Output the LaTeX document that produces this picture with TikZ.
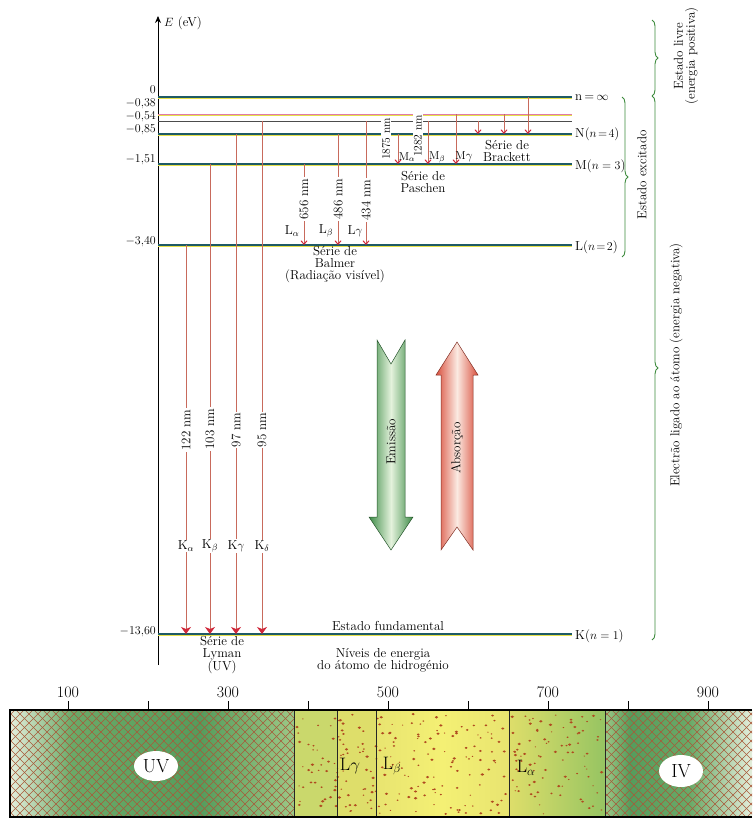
\documentclass[tikz,border=0pt]{standalone}
\usetikzlibrary{arrows.meta,decorations.pathreplacing,shapes.geometric}
\definecolor{levc}{HTML}{1E5A66}
\definecolor{levy}{HTML}{E6E04A}
\definecolor{levp}{HTML}{E07AA8}
\definecolor{trc}{HTML}{C86A5C}
\definecolor{tipc}{HTML}{D0283A}
\definecolor{brc}{HTML}{3C8A3C}
\definecolor{emg}{HTML}{3E8C48}
\definecolor{emw}{HTML}{E4F2DC}
\definecolor{abr}{HTML}{D9503E}
\definecolor{abw}{HTML}{FBEAE2}
\definecolor{hatchc}{HTML}{A85A3A}
\definecolor{speck}{HTML}{B04A20}
\definecolor{gpale}{HTML}{E4EEDC}
\definecolor{gmid}{HTML}{6AAA68}
\definecolor{gdark}{HTML}{559C5C}
\definecolor{glight}{HTML}{9CC886}
\definecolor{yg}{HTML}{CAD86C}
\definecolor{ya}{HTML}{DEDE6A}
\definecolor{yb}{HTML}{E8E470}
\definecolor{yc}{HTML}{F4F074}
\definecolor{ygr}{HTML}{96C462}
\begin{document}
\begin{tikzpicture}[x=1pt,y=-1pt,
 lab/.style={font=\fontsize{13}{12}\selectfont, inner sep=1pt},
 sml/.style={font=\fontsize{11.5}{12}\selectfont, inner sep=0.6pt},
 ylab/.style={font=\fontsize{12}{12}\selectfont, inner sep=0pt, anchor=east},
 big/.style={font=\fontsize{16}{16}\selectfont, inner sep=1pt},
 lev/.style={draw=levc, line width=1.4pt},
 levyel/.style={draw=levy, line width=1.1pt},
 trans/.style={draw=trc, line width=1pt},
 lyman/.style={trans, -{Stealth[length=7pt,width=10pt,inset=2pt,color=tipc]}},
 balm/.style={trans, -{Straight Barb[length=3.5pt,width=6pt,color=tipc]}},
 bracestyle/.style={draw=brc, line width=0.9pt, decorate, decoration={brace, amplitude=6pt}},
 hatch/.style={draw=hatchc, line width=0.55pt},
]
\useasboundingbox (0,0) rectangle (752,826);

% axis
\coordinate (axb) at (158,665);
\coordinate (axt) at (158,16);
\draw[line width=1pt, -{Stealth[length=7pt,width=6pt]}] (axb) -- (axt);
\node[anchor=west, font=\fontsize{13}{12}\selectfont, inner sep=1pt] (eaxis) at (163,23) {$E$ (eV)};

% level coordinates
\foreach \n/\y in {0/97, 1/114, 2/121, 4/134, 3/164, L/245, K/634}{
  \coordinate (lv\n) at (158,\y);
  \coordinate (rt\n) at (572,\y);
}
% levels
\foreach \n in {0,4,3,L,K}{
  \draw[levyel] ([yshift=-1.4pt]lv\n) -- ([yshift=-1.4pt]rt\n);
  \draw[lev] (lv\n) -- (rt\n);
}
\draw[levyel] ([yshift=-1pt]lv1) -- ([yshift=-1pt]rt1);
\draw[draw=levp, line width=0.8pt] (lv1) -- (rt1);
\draw[draw=black!70, line width=0.7pt] (lv2) -- (rt2);

% left labels
\node[ylab] (t0) at (156,90) {0};
\node[ylab] (t1) at (156,103.5) {$-$0,38};
\node[ylab] (t2) at (156,116.5) {$-$0,54};
\node[ylab] (t4) at (156,129.5) {$-$0,85};
\node[ylab] (t3) at (156,160) {$-$1,51};
\node[ylab] (tL) at (156,242) {$-$3,40};
\node[ylab] (tK) at (156,632) {$-$13,60};

% right labels
\node[lab, anchor=west] (n0) at (574,98) {n\,=\,$\infty$};
\node[lab, anchor=west] (n4) at (574,134) {N($n\!=\!4$)};
\node[lab, anchor=west] (n3) at (574,166) {M($n = 3$)};
\node[lab, anchor=west] (nL) at (574,247) {L($n\!=\!2$)};
\node[lab, anchor=west] (nK) at (574,636) {K($n = 1$)};

% columns
\coordinate (cKa) at (186,0);
\coordinate (cKb) at (210,0);
\coordinate (cKg) at (236,0);
\coordinate (cKd) at (262,0);
\coordinate (cLa) at (304,0);
\coordinate (cLb) at (338,0);
\coordinate (cLg) at (366,0);
\coordinate (cMa) at (398,0);
\coordinate (cMb) at (428,0);
\coordinate (cMg) at (456,0);
\coordinate (cB1) at (478,0);
\coordinate (cB2) at (504,0);
\coordinate (cB3) at (528,0);

% Lyman
\draw[lyman] (cKa |- lvL) -- (cKa |- lvK);
\draw[lyman] (cKb |- lv3) -- (cKb |- lvK);
\draw[lyman] (cKg |- lv4) -- (cKg |- lvK);
\draw[lyman] (cKd |- lv2) -- (cKd |- lvK);
\node[lab, rotate=90, fill=white] (wKa) at (186,430) {122 nm};
\node[lab, rotate=90, fill=white] (wKb) at (210,429) {103 nm};
\node[lab, rotate=90, fill=white] (wKg) at (236,430) {97 nm};
\node[lab, rotate=90, fill=white] (wKd) at (262,430) {95 nm};
\node[lab, fill=white] (kKa) at (186,546) {K$_\alpha$};
\node[lab, fill=white] (kKb) at (210,546) {K$_\beta$};
\node[lab, fill=white] (kKg) at (236,546) {K$\gamma$};
\node[lab, fill=white] (kKd) at (262,546) {K$_\delta$};

% Balmer
\draw[balm] (cLa |- lv3) -- (cLa |- lvL);
\draw[balm] (cLb |- lv4) -- (cLb |- lvL);
\draw[balm] (cLg |- lv2) -- (cLg |- lvL);
\node[lab, rotate=90, fill=white] (wLa) at (304,199) {656 nm};
\node[lab, rotate=90, fill=white] (wLb) at (338,199) {486 nm};
\node[lab, rotate=90, fill=white] (wLg) at (366,200) {434 nm};
\node[lab] (kLa) at (292,231) {L$_\alpha$};
\node[lab] (kLb) at (326,231) {L$_\beta$};
\node[lab] (kLg) at (355,231) {L$\gamma$};
\node[lab, align=center] (balmer) at (335,265) {Série de\\Balmer\\(Radiação visível)};

% Paschen
\draw[balm] (cMa |- lv4) -- (cMa |- lv3);
\draw[balm] (cMb |- lv2) -- (cMb |- lv3);
\draw[balm] (cMg |- lv1) -- (cMg |- lv3);
\node[sml, rotate=90, fill=white] (wMa) at (386,139) {1875 nm};
\node[sml, rotate=90, fill=white] (wMb) at (418,136) {1282 nm};
\node[sml] (kMa) at (407,157) {M$_\alpha$};
\node[sml] (kMb) at (437,157) {M$_\beta$};
\node[sml] (kMg) at (464,157) {M$\gamma$};
\node[lab, align=center] (paschen) at (423,182) {Série de\\Paschen};

% Brackett
\draw[balm] (cB1 |- lv2) -- (cB1 |- lv4);
\draw[balm] (cB2 |- lv1) -- (cB2 |- lv4);
\draw[balm] (cB3 |- lv0) -- (cB3 |- lv4);
\node[lab, align=center] (brackett) at (507,151) {Série de\\Brackett};

% bottom texts
\node[lab] (fund) at (388,626) {Estado fundamental};
\node[lab, align=center] (lyman) at (222,655) {Série de\\Lyman\\(UV)};
\node[lab, align=center] (niveis) at (383,660) {Níveis de energia\\do átomo de hidrogénio};

% braces
\coordinate (bA1) at (622,97);
\coordinate (bA2) at (622,257);
\draw[bracestyle] (bA1) -- (bA2);
\node[lab, rotate=90] (exc) at (642,175) {Estado excitado};
\coordinate (bB1) at (652,20);
\coordinate (bB2) at (652,96);
\draw[bracestyle] (bB1) -- (bB2);
\node[lab, rotate=90, align=center] (livre) at (686,56) {Estado livre\\(energia positiva)};
\coordinate (bC1) at (652,96);
\coordinate (bC2) at (652,640);
\draw[bracestyle] (bC1) -- (bC2);
\node[lab, rotate=90] (ligado) at (676,365) {Electrão ligado ao átomo (energia negativa)};

% Emission / Absorption arrows
\shade[left color=emg, right color=emg, middle color=emw, draw=emg!60!black, line width=0.5pt]
  (377,340) -- (391,364) -- (405,340) -- (405,517) -- (413,517) -- (391,550) -- (369,517) -- (377,517) -- cycle;
\node[lab, rotate=90] (emis) at (391,442) {Emissão};
\shade[left color=abr, right color=abr, middle color=abw, draw=abr!60!black, line width=0.5pt]
  (457,342) -- (478,375) -- (473,375) -- (473,550) -- (457,527) -- (441,550) -- (441,375) -- (436,375) -- cycle;
\node[lab, rotate=90] (abso) at (457,448) {Absorção};

% spectrum bar
\begin{scope}
  \clip (10,710) rectangle (294,817);
  \shade[left color=gpale, right color=gmid] (10,710) rectangle (72,817);
  \shade[left color=gmid, right color=gdark] (72,710) rectangle (200,817);
  \shade[left color=gdark, right color=glight] (200,710) rectangle (294,817);
  \foreach \i in {-110,-101,...,300}{
    \draw[hatch] (\i,710) -- ++(107,107);
    \draw[hatch] (\i,817) -- ++(107,-107);
  }
\end{scope}
\begin{scope}
  \clip (605,710) rectangle (752,817);
  \shade[left color=glight, right color=gdark] (605,710) rectangle (630,817);
  \shade[left color=gdark, right color=gmid] (630,710) rectangle (690,817);
  \shade[left color=gmid, right color=gpale] (690,710) rectangle (752,817);
  \foreach \i in {495,504,...,760}{
    \draw[hatch] (\i,710) -- ++(107,107);
    \draw[hatch] (\i,817) -- ++(107,-107);
  }
\end{scope}
\fill[yg] (294,710) rectangle (337,817);
\fill[ya] (337,710) rectangle (376,817);
\shade[left color=yb, right color=yb, middle color=yc] (376,710) rectangle (509,817);
\shade[left color=ya, right color=ygr] (509,710) rectangle (605,817);
\pgfmathsetseed{7}
\foreach \k in {1,...,300}{
  \pgfmathsetmacro{\rx}{297+305*rnd}
  \pgfmathsetmacro{\ry}{714+100*rnd}
  \pgfmathsetmacro{\rs}{0.5+0.8*rnd}
  \fill[speck] (\rx,\ry) ellipse ({\rs*1.4} and {\rs});
}
\foreach \xx in {294,337,376,509,605}{
  \draw[black!85, line width=0.8pt] (\xx,710) -- (\xx,817);
}
\draw[line width=1.6pt] (752,710) -- (10,710) -- (10,817) -- (752,817);
\foreach \l in {100,200,...,900}{
  \draw[line width=0.8pt] ({-12+0.8*\l},701) -- ({-12+0.8*\l},710);
}
\foreach \l in {100,300,500,700,900}{
  \node[big] (num\l) at ({-12+0.8*\l},692) {\l};
}
\node[ellipse, fill=white, minimum width=44pt, minimum height=30pt, inner sep=0pt,
  font=\fontsize{19}{19}\selectfont] (uv) at (156,766) {UV};
\node[ellipse, fill=white, minimum width=44pt, minimum height=32pt, inner sep=0pt,
  font=\fontsize{19}{19}\selectfont] (iv) at (681,771) {IV};
\node[font=\fontsize{18}{18}\selectfont] (sLg) at (350,766) {L$\gamma$};
\node[font=\fontsize{18}{18}\selectfont] (sLb) at (392,766) {L$_\beta$};
\node[font=\fontsize{18}{18}\selectfont] (sLa) at (526,768) {L$_\alpha$};
\end{tikzpicture}
\end{document}
